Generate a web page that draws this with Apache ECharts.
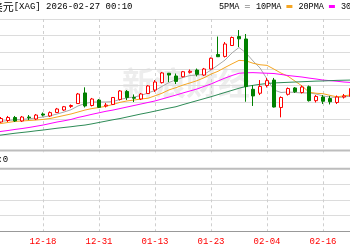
<!DOCTYPE html>
<html><head><meta charset="utf-8">
<script src="https://cdn.jsdelivr.net/npm/echarts@6/dist/echarts.min.js"></script>
<style>html,body{margin:0;padding:0;background:#fff}#c{width:350px;height:250px}</style>
</head><body><div id="c"></div>
<script>
const dates = ['12-08','12-09','12-10','12-11','12-12','12-15','12-16','12-17','12-18','12-19','12-22','12-23','12-24','12-26','12-29','12-30','12-31','01-02','01-05','01-06','01-07','01-08','01-09','01-12','01-13','01-14','01-15','01-16','01-19','01-20','01-21','01-22','01-23','01-26','01-27','01-28','01-29','01-30','02-02','02-03','02-04','02-05','02-06','02-09','02-10','02-11','02-12','02-13','02-16','02-17','02-18','02-19','02-20'];
const opens  = [63.4,65.3,64.0,65.0,67.0,64.7,67.3,66.0,69.3,68.0,70.3,71.9,74.3,76.2,83.2,74.9,78.5,74.6,75.6,78.9,84.2,80.2,79.2,82.8,85.1,90.0,96.2,94.4,93.9,96.8,98.3,95.0,99.0,108.6,107.3,114.5,120.4,118.8,85.6,83.0,88.1,91.7,73.6,82.3,86.5,83.5,87.3,78.1,80.5,79.5,76.9,80.5,80.9];
const closes = [65.0,63.7,66.3,67.0,64.7,67.3,66.8,68.6,68.6,70.2,72.6,74.1,74.9,82.5,74.6,79.2,73.7,75.2,80.2,84.5,80.2,79.7,82.5,87.8,90.4,96.4,95.0,90.8,97.2,97.5,95.5,99.0,106.1,107.1,115.5,119.8,118.9,87.5,81.2,87.5,91.3,73.9,80.2,86.1,84.0,87.1,78.1,80.9,77.7,77.4,80.5,81.2,86.1];
const lows   = [62.7,63.0,63.4,64.0,64.0,64.0,65.3,65.3,67.7,67.3,70.0,71.3,73.3,75.9,73.6,74.3,73.3,73.6,75.2,78.2,78.5,77.2,78.5,82.5,83.8,89.4,90.4,89.1,93.4,96.0,94.1,94.4,98.7,106.9,106.6,114.2,113.5,77.4,74.6,81.8,86.8,73.6,67.1,81.5,83.2,82.8,77.5,76.9,75.9,75.6,75.9,79.5,80.5];
const highs  = [65.7,66.0,67.3,68.0,68.0,68.0,68.6,69.3,70.3,71.0,73.3,74.6,75.6,83.2,86.9,79.9,79.2,76.6,80.5,85.1,85.1,82.2,83.2,88.4,91.7,97.0,96.4,96.0,97.7,98.7,99.3,99.7,106.6,120.4,116.8,120.4,124.7,122.1,88.4,91.7,93.1,93.1,80.9,86.8,87.1,88.1,88.1,81.8,81.8,81.2,81.5,82.5,87.1];
const ma5  = [63.4,63.7,64.4,65.0,65.5,65.8,66.1,66.7,67.3,68.1,69.3,70.6,72.1,74.6,76.2,77.2,77.2,77.2,77.5,78.9,79.9,80.5,81.5,83.2,84.8,87.5,90.1,91.9,93.4,94.7,95.0,95.4,98.3,101.6,104.9,109.6,113.2,109.6,104.3,99.7,92.4,85.1,83.5,83.8,83.5,83.2,83.2,82.5,81.2,80.5,80.2,80.5,81.2];
const ma10 = [62.0,62.5,63.0,63.7,64.4,64.7,65.0,65.3,65.7,66.3,67.3,68.3,69.3,70.6,71.9,72.9,73.6,74.4,75.6,77.0,77.9,78.5,79.2,79.7,81.3,83.0,85.2,86.7,88.4,89.8,91.3,93.2,95.6,97.5,100.0,102.4,104.7,104.4,102.8,101.8,101.4,98.9,96.3,94.2,91.0,87.8,83.7,83.0,82.7,81.6,80.6,81.3,81.9];
const ma20 = [56.1,56.8,57.8,58.4,59.1,59.7,60.4,61.2,62.0,63.0,64.0,64.8,65.7,67.0,68.0,69.1,70.1,71.1,71.9,72.9,73.9,74.9,75.9,76.9,77.9,79.2,80.5,81.8,83.2,84.5,85.8,87.5,89.1,91.1,93.0,94.7,96.2,96.5,96.6,96.4,96.2,96.0,95.4,94.7,94.2,93.7,93.0,92.4,91.7,91.3,90.9,90.4,90.1];
const ma30 = [54.3,54.9,55.4,56.0,56.6,57.1,57.6,58.2,58.7,59.3,59.9,60.4,60.9,61.5,62.0,62.8,63.7,64.6,65.5,66.3,67.3,68.3,69.3,70.2,71.2,72.2,73.2,74.1,75.5,76.8,78.1,79.4,80.7,82.1,83.5,84.9,86.3,87.5,88.2,88.9,89.4,89.8,90.0,90.2,90.4,90.6,90.8,91.0,91.1,91.3,91.5,91.6,91.7];
const maNames = ['5PMA','10PMA','20PMA','30PMA'];
const maColors = ['#a8a8a8','#f5a623','#ff00ff','#2e8b57'];
const volumeLabel = '成交量:0';
const titleName = '美元';
const titleRest = '[XAG] 2026-02-27 00:10';
const watermark = '新浪财经';

const ohlc = dates.map((d, i) => [opens[i], closes[i], lows[i], highs[i]]);
const maData = [ma5, ma10, ma20, ma30];

const chart = echarts.init(document.getElementById('c'), null, {renderer: 'canvas'});
const dashed = {show: true, interval: 7, lineStyle: {color: '#cfcfcf', type: [3, 3], width: 1}};
const option = {
  animation: false,
  backgroundColor: '#fff',
  legend: {
    left: 219, top: 2, width: 400, padding: 0, orient: 'horizontal', align: 'right',
    itemWidth: 6, itemHeight: 3, itemGap: 6, selectedMode: false,
    textStyle: {fontSize: 8.5, fontFamily: 'Liberation Mono', color: '#000'},
    data: maNames.map((n, i) => i === 0 ? {name: n, icon: 'path://M0 0H10V2H0ZM0 4H10V6H0Z'} : {name: n, icon: 'rect'})
  },
  grid: [
    {left: -13, right: -1, top: 19, height: 133.33, outerBoundsMode: 'none', containLabel: false},
    {left: -13, right: -1, top: 169.3, height: 61.7, outerBoundsMode: 'none', containLabel: false}
  ],
  xAxis: [
    {type: 'category', gridIndex: 0, data: dates, boundaryGap: false,
     axisLine: {show: false}, axisTick: {show: false}, axisLabel: {show: false, interval: 7},
     splitLine: dashed},
    {type: 'category', gridIndex: 1, data: dates, boundaryGap: false,
     axisLine: {show: true, lineStyle: {color: '#999', width: 1}}, axisTick: {show: false},
     axisLabel: {interval: 7, color: '#ff0000', fontSize: 9, fontFamily: 'Liberation Mono', margin: 6},
     splitLine: dashed}
  ],
  yAxis: [
    {type: 'value', gridIndex: 0, min: 44, max: 132, interval: 11,
     axisLine: {show: false}, axisTick: {show: false}, axisLabel: {show: false},
     splitLine: {show: true, showMinLine: false, lineStyle: {color: '#dcdcdc', width: 1}}},
    {type: 'value', gridIndex: 1, min: 0, max: 4, interval: 1,
     axisLine: {show: false}, axisTick: {show: false}, axisLabel: {show: false},
     splitLine: {show: true, showMinLine: false, showMaxLine: false, lineStyle: {color: '#dcdcdc', width: 1}}}
  ],
  graphic: [
    {type: 'text', z: -1, left: 122, top: 67, style: {text: watermark, fill: '#ededed', fontSize: 32, fontWeight: 'bold', fontFamily: 'Noto Sans CJK SC'}},
    {type: 'rect', shape: {x: 0, y: 149.5, width: 350, height: 2}, style: {fill: '#bdbdbd'}},
    {type: 'rect', shape: {x: 0, y: 167.7, width: 350, height: 2}, style: {fill: '#bdbdbd'}},
    {type: 'text', x: 8.2, y: 160, style: {text: volumeLabel, align: 'right', verticalAlign: 'middle', fill: '#000', font: '9px "Liberation Mono", "Noto Sans CJK SC"'}},
    {type: 'text', x: -8.3, y: 7, style: {
      text: '{c|' + titleName + '}{a|' + titleRest + '}', verticalAlign: 'middle', fill: '#000',
      rich: {c: {fontSize: 11, fontFamily: 'Noto Sans CJK SC', fill: '#000'}, a: {fontSize: 9, fontFamily: 'Liberation Mono', fill: '#000'}}
    }}
  ],
  series: [
    ...maNames.map((n, i) => ({
      name: n, type: 'line', xAxisIndex: 0, yAxisIndex: 0, data: maData[i],
      showSymbol: false, symbol: 'none', color: maColors[i],
      lineStyle: {color: maColors[i], width: 1}, z: 2, silent: true
    })),
    {type: 'candlestick', xAxisIndex: 0, yAxisIndex: 0, data: ohlc, barWidth: 4, z: 3,
     itemStyle: {color: '#ffffff', color0: '#008000', borderColor: '#ff0000', borderColor0: '#008000', borderWidth: 1}}
  ]
};
chart.setOption(option);
</script></body></html>
